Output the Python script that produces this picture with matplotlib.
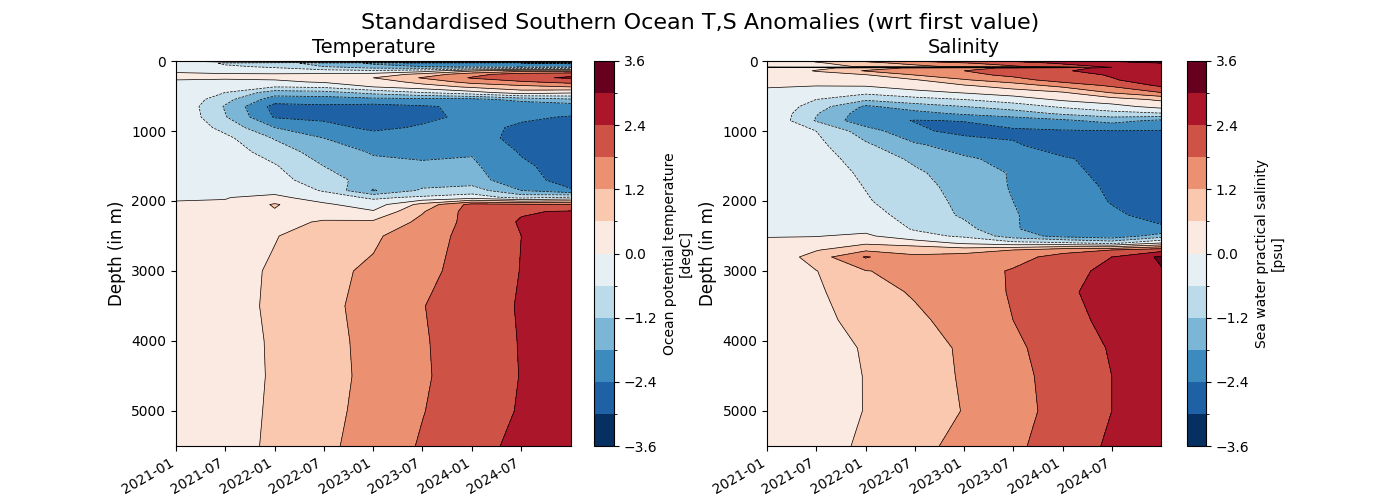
import numpy as np
import matplotlib
matplotlib.use("Agg")
import matplotlib.pyplot as plt
import matplotlib.dates as mdates
from matplotlib.colors import ListedColormap, BoundaryNorm

# time axis (anomalies wrt first value)
times = ["2021-01-01", "2021-07-01", "2022-01-01", "2022-07-01", "2023-01-01",
         "2023-07-01", "2024-01-01", "2024-07-01", "2024-12-31"]

levels = np.round(np.arange(-3.6, 3.61, 0.6), 2)

# temperature: depth levels (m) and one profile per time
temp_depth = [0, 30, 80, 140, 190, 240, 300, 370, 450, 550, 650, 800, 950, 1100,
              1300, 1500, 1700, 1850, 1950, 2050, 2150, 2300, 2500, 3000, 3500,
              4000, 4500, 5000, 5500]
temp_profiles = [
    [-0.02, -0.02, -0.02, -0.02, 0.02, 0.02, -0.02, -0.02, -0.02, -0.02, -0.02, -0.02, -0.02, -0.02,
     -0.02, -0.02, -0.02, -0.02, -0.02, 0.02, 0.02, 0.02, 0.02, 0.02, 0.02, 0.02, 0.02, 0.02, 0.02],
    [0.8, -0.7, -0.5, -0.2, 0.05, 0.05, -0.1, -0.3, -0.6, -1.0, -1.25, -1.15, -0.8, -0.45,
     -0.3, -0.2, -0.15, -0.1, -0.02, 0.05, 0.2, 0.3, 0.33, 0.36, 0.37, 0.34, 0.34, 0.35, 0.37],
    [1.5, -1.0, -0.7, -0.3, 0.05, 0.1, -0.1, -0.6, -1.5, -2.1, -2.6, -2.45, -1.8, -1.25,
     -0.85, -0.55, -0.4, -0.2, 0.15, 0.66, 0.55, 0.45, 0.57, 0.68, 0.7, 0.67, 0.66, 0.68, 0.7],
    [2.0, -1.4, -1.2, -0.4, 0.1, 0.3, 0.05, -0.5, -1.4, -2.1, -2.5, -2.5, -2.25, -1.8,
     -1.5, -1.2, -0.9, -0.65, -0.3, 0.1, 0.35, 0.65, 0.9, 1.05, 1.05, 1.0, 1.0, 1.02, 1.05],
    [2.5, -1.9, -1.6, -0.5, 0.2, 0.6, 0.25, 0.0, -1.0, -2.0, -2.6, -2.6, -2.5, -2.2,
     -1.85, -1.65, -1.5, -1.85, -0.7, -0.3, 0.05, 0.7, 1.1, 1.3, 1.4, 1.38, 1.35, 1.4, 1.5],
    [2.8, -2.1, -1.8, -0.3, 0.8, 1.25, 0.8, 0.3, -0.6, -2.0, -2.45, -2.5, -2.35, -2.1,
     -1.95, -1.7, -1.55, -1.1, -0.5, 0.8, 1.15, 1.35, 1.6, 1.7, 1.78, 1.75, 1.74, 1.78, 1.85],
    [3.1, -2.3, -2.0, 0.5, 1.6, 1.85, 1.4, 0.7, -0.2, -2.0, -2.3, -2.3, -2.3, -2.2,
     -1.85, -1.7, -1.55, -0.9, -0.3, 2.0, 2.05, 2.0, 1.95, 1.95, 2.1, 2.08, 2.05, 2.1, 2.2],
    [3.25, -2.4, -2.1, 1.0, 2.1, 2.3, 1.7, 1.0, 0.3, -1.6, -2.3, -2.35, -2.45, -2.55,
     -2.45, -2.3, -2.2, -1.8, -0.8, 1.9, 2.35, 2.45, 2.4, 2.42, 2.45, 2.43, 2.42, 2.45, 2.55],
    [3.4, -2.5, -2.0, 1.0, 2.3, 2.45, 2.0, 1.2, 0.1, -1.3, -2.2, -2.42, -2.6, -2.7,
     -2.7, -2.65, -2.6, -2.35, -0.5, 1.8, 2.45, 2.7, 2.75, 2.8, 2.85, 2.85, 2.8, 2.85, 2.9],
]

# salinity: depth levels (m) and one profile per time
sal_depth = [0, 30, 80, 90, 100, 140, 200, 270, 350, 450, 550, 650, 750, 850, 1000, 1200, 1400,
             1600, 1800, 2000, 2200, 2400, 2500, 2600, 2700, 2800, 3000, 3300, 3700, 4100,
             4500, 5000, 5500]
sal_profiles = [
    [0.02, 0.02, 0.02, -0.02, 0.02, 0.02, 0.02, 0.02, 0.01, -0.02, -0.02, -0.02, -0.02, -0.02, -0.02, -0.02, -0.02,
     -0.02, -0.02, -0.02, -0.02, -0.02, -0.005, 0.02, 0.02, 0.02, 0.02, 0.02, 0.02, 0.02, 0.02, 0.02, 0.02],
    [0.7, 0.5, 0.3, -0.2, 0.4, 0.65, 0.3, 0.1, 0.02, -0.3, -0.6, -0.9, -1.15, -1.25, -0.6, -0.45, -0.35,
     -0.3, -0.25, -0.2, -0.15, -0.1, -0.02, 0.2, 0.55, 0.9, 0.58, 0.5, 0.4, 0.35, 0.33, 0.32, 0.36],
    [1.3, 1.0, 0.7, -0.7, 0.9, 1.25, 0.55, 0.3, 0.05, -0.45, -1.1, -1.9, -2.1, -2.2, -1.5, -1.1, -0.85,
     -0.7, -0.62, -0.55, -0.45, -0.15, 0.1, 0.5, 1.1, 1.85, 1.18, 1.0, 0.85, 0.65, 0.62, 0.62, 0.7],
    [1.85, 1.4, 1.0, -0.4, 1.3, 1.5, 1.2, 0.55, 0.35, -0.2, -0.8, -1.5, -2.0, -2.42, -2.3, -1.7, -1.3,
     -1.1, -1.0, -0.9, -0.75, -0.65, -0.4, 0.3, 1.0, 1.3, 1.35, 1.25, 1.1, 0.95, 0.97, 0.95, 1.1],
    [2.2, 1.75, 1.35, -0.2, 1.6, 1.8, 1.6, 1.15, 0.55, 0.05, -0.6, -1.2, -1.7, -2.38, -2.55, -2.1, -1.7,
     -1.5, -1.4, -1.35, -1.3, -1.0, -0.7, -0.1, 0.9, 1.5, 1.55, 1.5, 1.4, 1.28, 1.25, 1.22, 1.3],
    [2.5, 2.1, 1.7, -0.1, 1.9, 2.1, 1.95, 1.55, 0.9, 0.3, -0.3, -0.9, -1.5, -2.1, -2.5, -2.35, -2.0,
     -1.85, -1.85, -1.8, -1.75, -1.75, -1.5, -0.4, 1.2, 1.6, 1.85, 1.85, 1.8, 1.7, 1.65, 1.6, 1.7],
    [2.8, 2.5, 2.1, 1.0, 2.2, 2.35, 2.15, 2.1, 1.4, 0.55, 0.1, -0.5, -1.1, -1.9, -2.45, -2.6, -2.35,
     -2.3, -2.25, -2.2, -2.15, -2.1, -2.0, -0.5, 1.6, 2.0, 2.2, 2.3, 2.2, 2.05, 2.0, 2.0, 2.05],
    [3.05, 2.8, 2.5, 2.4, 2.55, 2.6, 2.45, 2.35, 1.9, 1.25, 0.35, -0.2, -0.8, -1.6, -2.42, -2.55, -2.55,
     -2.5, -2.45, -2.42, -2.35, -2.3, -2.2, -0.8, 1.8, 2.4, 2.55, 2.6, 2.55, 2.45, 2.4, 2.4, 2.5],
    [3.3, 3.0, 2.8, 2.7, 2.75, 2.8, 2.8, 2.7, 2.5, 1.8, 0.7, 0.2, -0.65, -1.9, -2.42, -2.7, -2.75,
     -2.7, -2.65, -2.6, -2.5, -2.35, -1.5, 0.0, 2.2, 3.1, 2.95, 2.85, 2.8, 2.85, 2.85, 2.85, 2.9],
]

# discrete colours sampled end to end, one per interval
colours = plt.get_cmap("RdBu_r")(np.linspace(0, 1, len(levels) - 1))
cmap = ListedColormap(colours)
norm = BoundaryNorm(levels, cmap.N)


def plot_hovmoller(ax, cax, depth, profiles, title, cbar_label):
    """Filled depth-time contours with black contour lines."""
    x = mdates.date2num(np.array(times, dtype="datetime64[D]"))
    z = np.array(profiles).T
    cf = ax.contourf(x, depth, z, levels=levels, cmap=cmap, norm=norm)
    ax.contour(x, depth, z, levels=levels, colors="k", linewidths=0.5)
    ax.set_ylim(5500, 0)
    ax.set_xlim(x[0], x[-1])
    ax.set_title(title, fontsize=14)
    ax.set_ylabel("Depth (in m)", fontsize=12)
    ax.xaxis.set_major_locator(mdates.MonthLocator(bymonth=[1, 7]))
    ax.xaxis.set_major_formatter(mdates.DateFormatter("%Y-%m"))
    for lbl in ax.get_xticklabels():
        lbl.set_rotation(30)
        lbl.set_ha("right")
    cb = plt.colorbar(cf, cax=cax)
    cb.set_label(cbar_label)
    return cf


fig = plt.figure(figsize=(14, 5), dpi=100)
ax_t = fig.add_axes([0.1257, 0.108, 0.282, 0.77])
cax_t = fig.add_axes([0.4243, 0.108, 0.0143, 0.77])
ax_s = fig.add_axes([0.548, 0.108, 0.2814, 0.77])
cax_s = fig.add_axes([0.8479, 0.108, 0.0136, 0.77])

plot_hovmoller(ax_t, cax_t, temp_depth, temp_profiles, "Temperature",
               "Ocean potential temperature\n[degC]")
plot_hovmoller(ax_s, cax_s, sal_depth, sal_profiles, "Salinity",
               "Sea water practical salinity\n[psu]")

fig.suptitle("Standardised Southern Ocean T,S Anomalies (wrt first value)", fontsize=16, y=0.975)
plt.savefig("out.png")
